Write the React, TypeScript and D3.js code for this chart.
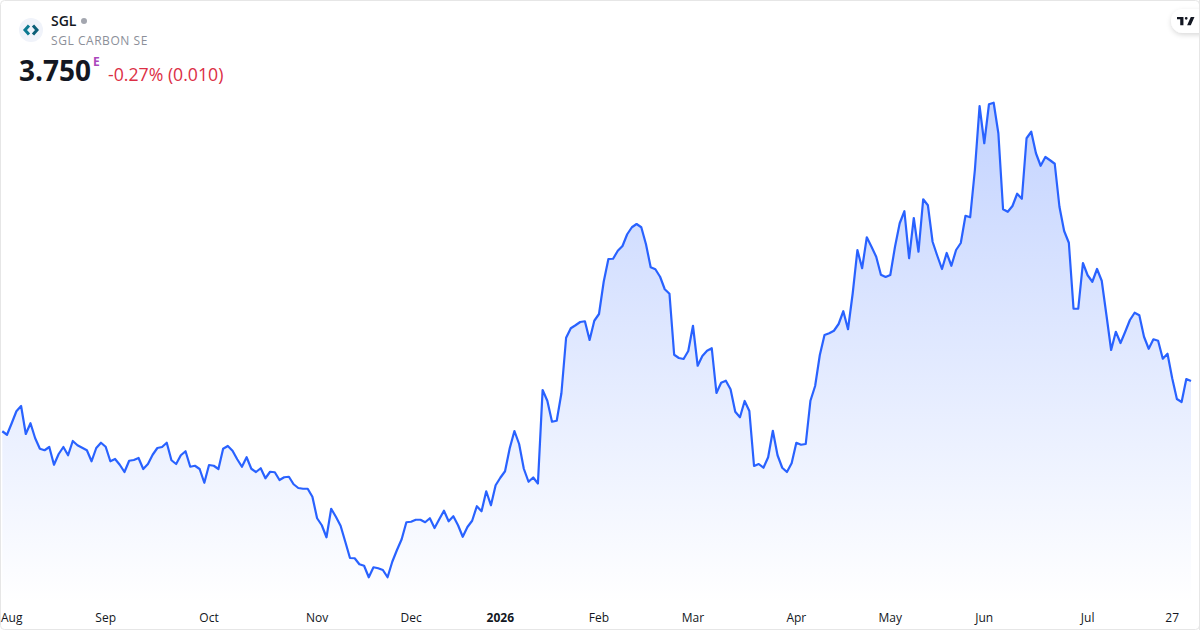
import React from "react";
import * as d3 from "d3";

const prices = [
  3.549, 3.535, 3.581, 3.629, 3.65, 3.538, 3.581, 3.521, 3.479, 3.473, 3.486, 3.415, 3.458, 3.486, 3.453, 3.51,
  3.493, 3.483, 3.473, 3.429, 3.482, 3.503, 3.487, 3.429, 3.438, 3.415, 3.386, 3.431, 3.434, 3.442, 3.398, 3.418,
  3.455, 3.482, 3.486, 3.503, 3.433, 3.418, 3.453, 3.469, 3.407, 3.411, 3.398, 3.343, 3.414, 3.411, 3.398, 3.479,
  3.49, 3.471, 3.437, 3.407, 3.445, 3.399, 3.386, 3.401, 3.361, 3.387, 3.385, 3.354, 3.365, 3.367, 3.337, 3.322,
  3.319, 3.319, 3.287, 3.201, 3.173, 3.125, 3.239, 3.207, 3.171, 3.107, 3.042, 3.041, 3.017, 3.011, 2.965, 3.005,
  3.001, 2.994, 2.965, 3.027, 3.074, 3.117, 3.185, 3.187, 3.195, 3.195, 3.185, 3.201, 3.162, 3.197, 3.231, 3.189,
  3.209, 3.173, 3.127, 3.166, 3.191, 3.249, 3.229, 3.309, 3.253, 3.333, 3.363, 3.389, 3.481, 3.55, 3.498, 3.399,
  3.347, 3.364, 3.34, 3.714, 3.671, 3.587, 3.591, 3.701, 3.923, 3.961, 3.973, 3.986, 3.989, 3.914, 3.991, 4.018,
  4.147, 4.238, 4.239, 4.271, 4.29, 4.337, 4.365, 4.378, 4.365, 4.297, 4.205, 4.197, 4.167, 4.117, 4.099, 3.855,
  3.842, 3.838, 3.87, 3.971, 3.811, 3.85, 3.871, 3.881, 3.702, 3.743, 3.751, 3.717, 3.627, 3.605, 3.67, 3.63,
  3.41, 3.418, 3.403, 3.445, 3.551, 3.453, 3.403, 3.386, 3.421, 3.503, 3.495, 3.498, 3.671, 3.73, 3.854, 3.934,
  3.941, 3.951, 3.978, 4.029, 3.957, 4.101, 4.274, 4.201, 4.325, 4.287, 4.247, 4.175, 4.166, 4.174, 4.287, 4.381,
  4.429, 4.241, 4.402, 4.267, 4.477, 4.453, 4.307, 4.251, 4.198, 4.262, 4.211, 4.274, 4.302, 4.411, 4.405, 4.594,
  4.85, 4.701, 4.857, 4.863, 4.741, 4.437, 4.427, 4.45, 4.499, 4.479, 4.721, 4.747, 4.661, 4.611, 4.646, 4.633,
  4.619, 4.447, 4.35, 4.303, 4.039, 4.039, 4.222, 4.173, 4.147, 4.198, 4.151, 4.014, 3.874, 3.947, 3.902, 3.947,
  3.994, 4.023, 4.013, 3.927, 3.879, 3.917, 3.911, 3.839, 3.859, 3.761, 3.678, 3.666, 3.758, 3.75,
];

const tickLabels = ["Aug", "Sep", "Oct", "Nov", "Dec", "2026", "Feb", "Mar", "Apr", "May", "Jun", "Jul", "27"];
const tickIndexes = [2, 22, 44, 67, 87, 106, 127, 147, 169, 189, 209, 231, 249];

const font = "'Open Sans', sans-serif";
const width = 1200;
const height = 630;

const x = d3.scaleLinear().domain([0, prices.length - 1]).range([2.3, 1191]);
const y = d3.scaleLinear().domain([2.965, 4.863]).range([577.25, 102.75]);

const linePath = d3.line<number>().x((_, i) => x(i)).y((d) => y(d))(prices)!;
const areaPath = d3.area<number>().x((_, i) => x(i)).y0(604).y1((d) => y(d))(prices)!;

export default function App() {
  return (
    <svg width={width} height={height} viewBox={`0 0 ${width} ${height}`}
      style={{ position: "absolute", left: 0, top: 0, display: "block" }}>
      <defs>
        <linearGradient id="fade" gradientUnits="userSpaceOnUse" x1="0" y1="102" x2="0" y2="604">
          <stop offset="0" stopColor="#2962ff" stopOpacity={0.28} />
          <stop offset="1" stopColor="#2962ff" stopOpacity={0} />
        </linearGradient>
        <filter id="pill" x="-40%" y="-40%" width="180%" height="180%">
          <feDropShadow dx="0" dy="2" stdDeviation="2.5" floodColor="#000" floodOpacity={0.15} />
        </filter>
      </defs>

      <rect x={0.5} y={0.5} width={width - 1} height={height - 1} rx={4} fill="#fff" stroke="#e6e6e6" />

      <path d={areaPath} fill="url(#fade)" />
      <path d={linePath} fill="none" stroke="#2962ff" strokeWidth={2.2} strokeLinejoin="round" />

      {tickLabels.map((t, i) => (
        <text key={t} x={i === 0 ? 1 : x(tickIndexes[i])} y={622} fontFamily={font} fontSize={12}
          fontWeight={t === "2026" ? 700 : 400} fill="#131722" textAnchor={i === 0 ? "start" : "middle"}>
          {t}
        </text>
      ))}

      <circle cx={31} cy={30} r={12} fill="#f0f3fa" />
      <path d="M29 25.5 L25 30 L29 34.5" fill="none" stroke="#0c7a92" strokeWidth={3} />
      <path d="M33 25.5 L37 30 L33 34.5" fill="none" stroke="#0c5f78" strokeWidth={3} />

      <text x={51} y={26} fontFamily={font} fontSize={14} fontWeight={600} fill="#131722">SGL</text>
      <circle cx={84} cy={21} r={3} fill="#a3a6af" />
      <text x={51} y={45} fontFamily={font} fontSize={12} fill="#8c8f99" letterSpacing={0.55}>SGL CARBON SE</text>
      <text x={19} y={81} fontFamily={font} fontSize={28} fontWeight={700} fill="#131722">3.750</text>
      <text x={93} y={66} fontFamily={font} fontSize={12} fontWeight={700} fill="#ab47bc">E</text>
      <text x={108} y={81} fontFamily={font} fontSize={17.7} fill="#dc2f45">-0.27% (0.010)</text>

      <rect x={1171} y={9} width={50} height={24} rx={12} fill="#fff" filter="url(#pill)" />
      <rect x={1199} y={0} width={1} height={height} fill="#e6e6e6" />
      <path transform="translate(1177 16.5) scale(0.46)"
        d="M14 1H0v5h7v13h7V1zm16 18h-8L30 1h8l-8 18zm-10-12a3 3 0 1 0 0-6 3 3 0 0 0 0 6z" fill="#131722" />
    </svg>
  );
}
